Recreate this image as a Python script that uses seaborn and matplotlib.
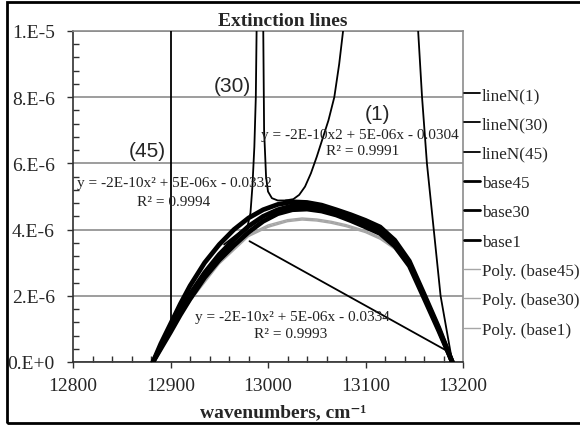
import numpy as np
import pandas as pd
import matplotlib
matplotlib.use("Agg")
import matplotlib.pyplot as plt
import seaborn as sns
from matplotlib.patches import Rectangle
from matplotlib.ticker import MultipleLocator, FixedLocator, FixedFormatter

# ---------------- data (x in cm-1, y in units of 1e-6) ----------------
lineN1_left_x = [13079, 13073, 13068, 13062, 13056, 13050, 13044, 13038, 13032, 13026, 13018]
lineN1_left_y = [10.5, 9.0, 8.0, 7.3, 6.75, 6.2, 5.7, 5.3, 5.05, 4.92, 4.88]
lineN1_right_x = [13153, 13158, 13163, 13170, 13177, 13189]
lineN1_right_y = [10.5, 8.0, 6.0, 4.0, 2.0, 0.0]

lineN30_left_x = [12988.5, 12987.5, 12986, 12984, 12982, 12979, 12968, 12955]
lineN30_left_y = [10.5, 8.0, 6.5, 5.3, 4.5, 4.1, 3.85, 3.55]
lineN30_right_x = [12995, 12996, 12998, 13000, 13004, 13010, 13020]
lineN30_right_y = [10.5, 7.0, 5.6, 5.15, 4.95, 4.88, 4.88]

lineN45_vert_x = [12901, 12901]
lineN45_vert_y = [10.5, 1.24]
lineN45_diag_x = [12981, 13187]
lineN45_diag_y = [3.65, 0.28]

base_x = [12882, 12890, 12900, 12910, 12920, 12935, 12950, 12965, 12980, 12995,
          13010, 13025, 13040, 13055, 13070, 13085, 13100, 13115, 13130, 13145,
          13160, 13175, 13189]
base45 = [0, 0.55, 1.15, 1.75, 2.3, 3.0, 3.55, 4.0, 4.35, 4.6, 4.76, 4.84, 4.82,
          4.74, 4.6, 4.45, 4.28, 4.08, 3.68, 3.05, 2.06, 1.05, 0]
base30 = [0, 0.45, 1.0, 1.55, 2.05, 2.7, 3.25, 3.7, 4.1, 4.4, 4.6, 4.72, 4.72,
          4.65, 4.52, 4.36, 4.18, 3.98, 3.6, 2.98, 2.0, 1.0, 0]
base1 = [0, 0.4, 0.9, 1.42, 1.9, 2.55, 3.08, 3.52, 3.92, 4.25, 4.48, 4.6, 4.62,
         4.56, 4.44, 4.27, 4.08, 3.88, 3.5, 2.9, 1.93, 0.95, 0]

poly_x = [12882, 12900, 12920, 12950, 12980, 13000, 13020, 13035, 13050, 13065,
          13080, 13100, 13115, 13130, 13145, 13160, 13175, 13189]
poly45 = [0.02, 0.98, 1.9, 3.05, 3.85, 4.14, 4.3, 4.35, 4.32, 4.25, 4.15, 3.97,
          3.77, 3.47, 2.92, 2.02, 1.02, 0.02]
poly30 = [0, 0.95, 1.86, 3.0, 3.82, 4.1, 4.27, 4.32, 4.29, 4.22, 4.12, 3.94,
          3.74, 3.44, 2.89, 1.99, 1.0, 0]
poly1 = [-0.02, 0.92, 1.83, 2.96, 3.79, 4.07, 4.24, 4.29, 4.26, 4.19, 4.09, 3.91,
         3.71, 3.41, 2.86, 1.96, 0.98, -0.02]

x_ticks = [12800, 12900, 13000, 13100, 13200]
y_ticks = [0, 2e-6, 4e-6, 6e-6, 8e-6, 1e-5]
y_tick_labels = ["0.E+0", "2.E-6", "4.E-6", "6.E-6", "8.E-6", "1.E-5"]

legend_labels = ["lineN(1)", "lineN(30)", "lineN(45)", "base45", "base30", "base1",
                 "Poly. (base45)", "Poly. (base30)", "Poly. (base1)"]

eq_texts = ["y = -2E-10x\u00b2 + 5E-06x - 0.0332", "y = -2E-10x2 + 5E-06x - 0.0304",
            "y = -2E-10x\u00b2 + 5E-06x - 0.0334"]
r2_texts = ["R\u00b2 = 0.9994", "R\u00b2 = 0.9991", "R\u00b2 = 0.9993"]

# ---------------- style ----------------
sns.set_style("white")
plt.rcParams['font.family'] = ['Liberation Serif', 'DejaVu Serif']

W, H = 580, 427
fig = plt.figure(figsize=(W / 100, H / 100), dpi=100)
L, R, T, B = 73, 463, 32, 363
ax = fig.add_axes([L / W, 1 - B / H, (R - L) / W, (B - T) / H])

S = 1e-6

def df(x, y):
    return pd.DataFrame({"x": x, "y": np.asarray(y, float) * S})

grey = "#a6a6a6"
handles = {}

# polynomial trendlines
for name, ys in [("base45", poly45), ("base30", poly30), ("base1", poly1)]:
    sns.lineplot(data=df(poly_x, ys), x="x", y="y", ax=ax, color=grey, lw=1.0,
                 sort=False, estimator=None, zorder=2)
    handles["Poly. (%s)" % name] = ax.lines[-1]

# base series (thick)
for name, ys in [("base45", base45), ("base30", base30), ("base1", base1)]:
    sns.lineplot(data=df(base_x, ys), x="x", y="y", ax=ax, color="black", lw=3.4,
                 sort=False, estimator=None, zorder=3)
    handles[name] = ax.lines[-1]

# lineN series
def branch(x, y, key=None):
    sns.lineplot(data=df(x, y), x="x", y="y", ax=ax, color="black", lw=1.3,
                 sort=False, estimator=None, zorder=4)
    if key:
        handles[key] = ax.lines[-1]

branch(lineN1_left_x, lineN1_left_y, "lineN(1)")
branch(lineN1_right_x, lineN1_right_y)
branch(lineN30_left_x, lineN30_left_y, "lineN(30)")
branch(lineN30_right_x, lineN30_right_y)
branch(lineN45_vert_x, lineN45_vert_y, "lineN(45)")
branch(lineN45_diag_x, lineN45_diag_y)

# ---------------- axes ----------------
ax.set_xlim(12800, 13200)
ax.set_ylim(0, 1e-5)
ax.xaxis.set_major_locator(FixedLocator(x_ticks))
ax.xaxis.set_minor_locator(MultipleLocator(20))
ax.yaxis.set_major_locator(FixedLocator(y_ticks))
ax.yaxis.set_major_formatter(FixedFormatter(y_tick_labels))
ax.yaxis.set_minor_locator(MultipleLocator(0.4e-6))
ax.set_xlabel("")
ax.set_ylabel("")
ax.grid(False)
ax.yaxis.grid(True, which="major", color="#8c8c8c", lw=1.2, zorder=0)
ax.set_axisbelow(True)
for s in ["top", "right"]:
    ax.spines[s].set_color("#8c8c8c")
    ax.spines[s].set_linewidth(1.2)
for s in ["left", "bottom"]:
    ax.spines[s].set_color("#303030")
    ax.spines[s].set_linewidth(1.2)
ax.tick_params(which="major", direction="out", length=4, width=1, color="#303030",
               labelsize=14, left=True, bottom=True)
ax.tick_params(which="minor", direction="in", length=4, width=1, color="#303030",
               left=True, bottom=True)
ax.tick_params(axis="y", which="major", pad=9)
ax.tick_params(axis="x", which="major", pad=7)

# ---------------- text ----------------
def ft(px, py, s, **kw):
    fig.text(px / W, 1 - py / H, s, ha="center", va="center", **kw)

ft(283, 21, "Extinction lines", fontsize=14, fontweight="bold")
ft(283, 413, "wavenumbers, cm\u207b\u00b9", fontsize=14, fontweight="bold")

lab = dict(fontsize=15, family=["Liberation Sans", "DejaVu Sans"])
ft(232, 86, "(30)", **lab)
ft(147, 152, "(45)", **lab)
ft(377, 115, "(1)", **lab)

eqk = dict(fontsize=11, color="#222222")
ft(174, 183, eq_texts[0], **eqk)
ft(174, 202, r2_texts[0], **eqk)
ft(360, 136, eq_texts[1], **eqk)
ft(363, 152, r2_texts[1], **eqk)
ft(292, 318, eq_texts[2], **eqk)
ft(291, 335, r2_texts[2], **eqk)

# legend
leg = fig.legend([handles[k] for k in legend_labels], legend_labels,
                 loc="upper left", bbox_to_anchor=(464 / W, 1 - 88 / H),
                 frameon=False, fontsize=12.3, handlelength=0.95,
                 handletextpad=0.1, labelspacing=0.78, borderpad=0,
                 borderaxespad=0)
for i, ln in enumerate(leg.get_lines()):
    if i < 3:
        ln.set_linewidth(1.3)
    elif i < 6:
        ln.set_linewidth(2.0)
    else:
        ln.set_linewidth(1.0)

# outer frame
fig.patches.append(Rectangle((6.5 / W, 1 - 423.5 / H), 600 / W, 421 / H,
                             transform=fig.transFigure, fill=False,
                             edgecolor="black", lw=2.0, clip_on=False))

fig.savefig("out.png", dpi=100)
